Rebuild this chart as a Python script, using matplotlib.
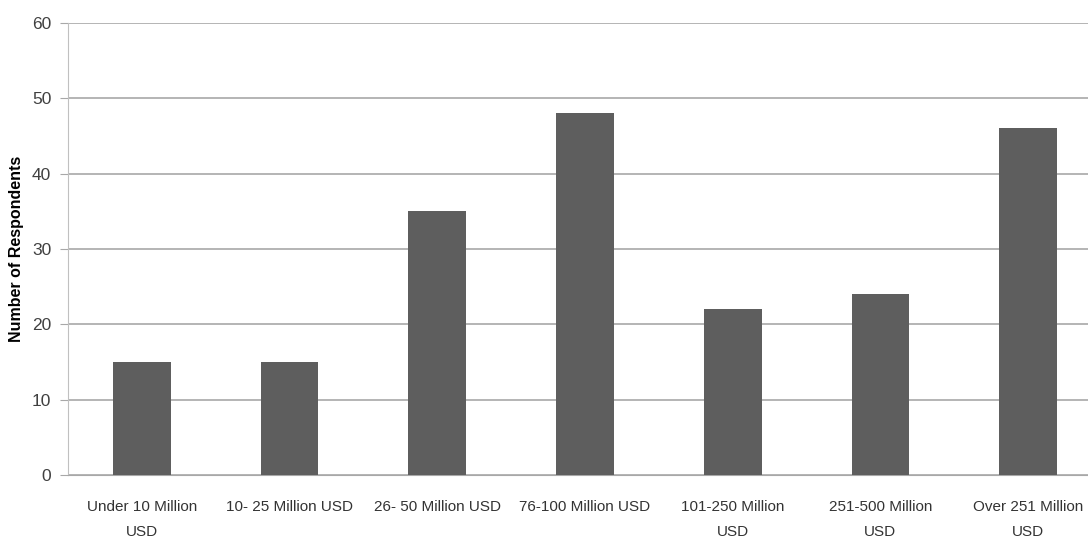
import matplotlib
matplotlib.use('Agg')
import matplotlib.pyplot as plt

categories = ['Under 10 Million\nUSD', '10- 25 Million USD', '26- 50 Million USD',
              '76-100 Million USD', '101-250 Million\nUSD', '251-500 Million\nUSD',
              'Over 251 Million\nUSD']
respondents = [15, 15, 35, 48, 22, 24, 46]
y_ticks = [0, 10, 20, 30, 40, 50, 60]

plt.rcParams['font.family'] = ['Liberation Sans Narrow', 'Liberation Sans', 'DejaVu Sans']

fig = plt.figure(figsize=(10.88, 5.38), dpi=100)
ax = fig.add_axes([68 / 1088, 63 / 538, (1102 - 68) / 1088, 452 / 538])

x = range(len(categories))
ax.bar(x, respondents, width=0.39, color='#5e5e5e', zorder=3)

ax.set_xlim(-0.5, len(categories) - 0.5)
ax.set_ylim(0, 60)
ax.set_yticks(y_ticks)
ax.yaxis.grid(True, color='#a8a8a8', linewidth=1.2, zorder=0)
ax.set_xticks(list(x))
ax.set_xticklabels(categories, fontsize=11, color='#333333', linespacing=2.0)
ax.tick_params(axis='x', length=0, pad=18)
ax.tick_params(axis='y', length=6, color='#a8a8a8', labelsize=12.5, labelcolor='#404040', pad=6)

for s in ['top', 'right']:
    ax.spines[s].set_visible(False)
ax.spines['left'].set_color('#c0c0c0')
ax.spines['bottom'].set_color('#a8a8a8')

ax.set_ylabel('Number of Respondents', fontsize=11.5, fontweight='bold', labelpad=6)

fig.savefig('out.png', dpi=100)
